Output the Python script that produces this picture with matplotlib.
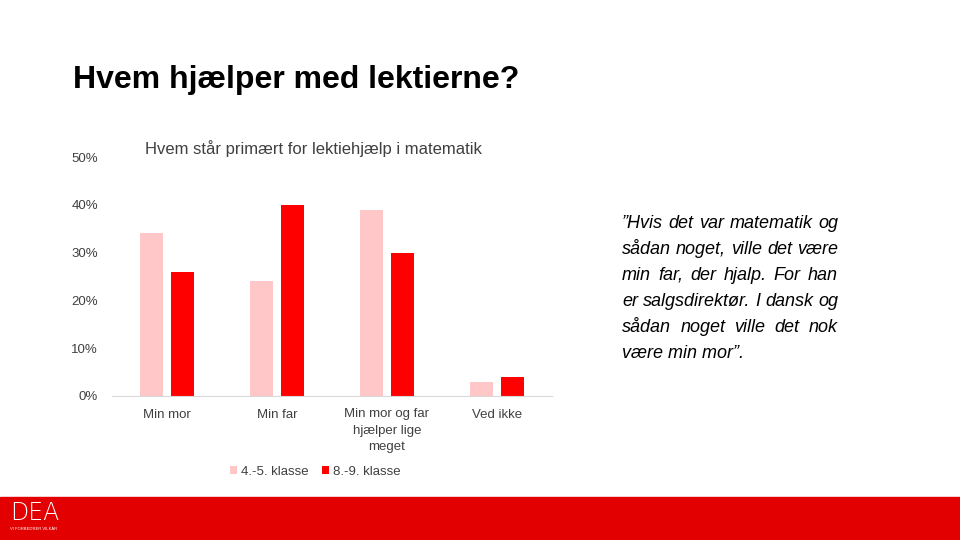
import matplotlib
matplotlib.use("Agg")
import matplotlib.pyplot as plt
from matplotlib.patches import Rectangle
import numpy as np

plt.rcParams['font.family'] = ['Liberation Sans', 'DejaVu Sans']

categories = ["Min mor", "Min far", "Min mor og far\nhjælper lige\nmeget", "Ved ikke"]
series_names = ["4.-5. klasse", "8.-9. klasse"]
values_45 = [34, 24, 39, 3]
values_89 = [26, 40, 30, 4]
yticks = [0, 10, 20, 30, 40, 50]
colors = ["#FFC7C7", "#FF0000"]

title = "Hvem hjælper med lektierne?"
chart_title = "Hvem står primært for lektiehjælp i matematik"
quote_lines = ["”Hvis det var matematik og", "sådan noget, ville det være",
               "min far, der hjalp. For han", "er salgsdirektør. I dansk og",
               "sådan noget ville det nok", "være min mor”."]

W, H = 960, 540
fig = plt.figure(figsize=(9.6, 5.4), dpi=100)
fig.patch.set_facecolor("white")

# axes in pixel coordinates
ax_l, ax_r, ax_b, ax_t = 112, 552, 396, 157
ax = fig.add_axes([ax_l / W, 1 - ax_b / H, (ax_r - ax_l) / W, (ax_b - ax_t) / H])
x = np.arange(len(categories))
bw = 0.21
off = 0.14
ax.bar(x - off, values_45, bw, color=colors[0], label=series_names[0])
ax.bar(x + off, values_89, bw, color=colors[1], label=series_names[1])
ax.set_xlim(-0.5, len(categories) - 0.5)
ax.set_ylim(0, 50)
ax.set_yticks(yticks)
ax.set_yticklabels([f"{t}%" for t in yticks], fontsize=9.5, color="#404040")
ax.set_xticks(x)
ax.set_xticklabels(categories, fontsize=9.5, color="#404040", linespacing=1.45)
for s in ["top", "right", "left"]:
    ax.spines[s].set_visible(False)
ax.spines["bottom"].set_color("#D9D9D9")
ax.tick_params(axis="both", length=0)
ax.tick_params(axis="y", pad=10)
ax.tick_params(axis="x", pad=9)
ax.set_facecolor("none")

leg = fig.legend(loc="center", bbox_to_anchor=(315 / W, 1 - 472 / H), ncol=2,
                 frameon=False, fontsize=9.5, handlelength=0.55, handleheight=0.55,
                 handletextpad=0.3, columnspacing=1.0, labelcolor="#404040")

fig.text(73 / W, 1 - 80 / H, title, fontsize=23, fontweight="bold", color="black",
         va="center", ha="left")
fig.text(145 / W, 1 - 149 / H, chart_title, fontsize=12, color="#404040", va="center", ha="left")

# justified quote
fig.canvas.draw()
r = fig.canvas.get_renderer()
qx0, qx1 = 622, 838
y0 = 223
lh = 26
qfs = 13
for i, line in enumerate(quote_lines):
    yy = 1 - (y0 + i * lh) / H
    if i == len(quote_lines) - 1:
        fig.text(qx0 / W, yy, line, fontsize=qfs, style="italic", color="black", va="center", ha="left")
        continue
    words = line.split(" ")
    widths = []
    for w in words:
        t = fig.text(0, 0, w, fontsize=qfs, style="italic")
        widths.append(t.get_window_extent(renderer=r).width)
        t.remove()
    gap = (qx1 - qx0 - sum(widths)) / (len(words) - 1)
    cx = qx0
    for w, wd in zip(words, widths):
        fig.text(cx / W, yy, w, fontsize=qfs, style="italic", color="black", va="center", ha="left")
        cx += wd + gap

# footer band
fig.patches.append(Rectangle((0, 0), 1, 43 / H, transform=fig.transFigure, color="#E30000", zorder=0))
fig.text(10 / W, 1 - 513 / H, "DEA", fontsize=17, color="white", fontweight="light",
         va="center", ha="left", family="DejaVu Sans")
fig.text(10 / W, 1 - 529 / H, "VI FORBEDRER VILKÅR", fontsize=3, color="white", va="center", ha="left")

fig.savefig("out.png", dpi=100)
